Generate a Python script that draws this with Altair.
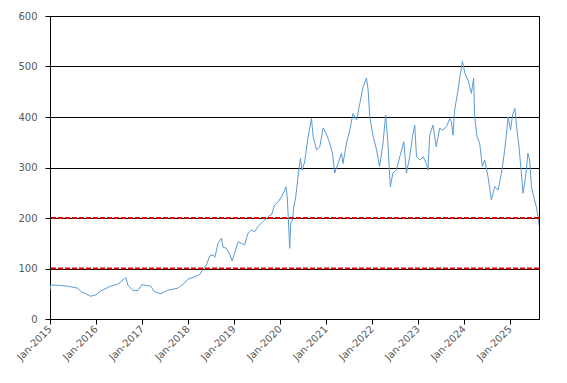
import altair as alt
import pandas as pd

dates = [
    "2015-01-01", "2015-01-06", "2015-03-03", "2015-05-21", "2015-08-10", "2015-09-05",
    "2015-10-12", "2015-11-21", "2016-01-01", "2016-02-10", "2016-04-28", "2016-06-23",
    "2016-08-15", "2016-08-25", "2016-09-11", "2016-10-20", "2016-11-29", "2017-01-01",
    "2017-03-11", "2017-04-10", "2017-05-30", "2017-07-24", "2017-10-12", "2017-12-04",
    "2018-01-01", "2018-03-03", "2018-04-04", "2018-05-01", "2018-05-27", "2018-06-23",
    "2018-07-19", "2018-08-02", "2018-08-28", "2018-09-24", "2018-10-07", "2018-11-03",
    "2018-11-30", "2018-12-18", "2019-01-09", "2019-02-04", "2019-03-01", "2019-03-27",
    "2019-04-23", "2019-05-19", "2019-06-15", "2019-07-11", "2019-08-07", "2019-09-03",
    "2019-09-29", "2019-10-26", "2019-11-21", "2019-12-18", "2020-01-14", "2020-02-02",
    "2020-02-18", "2020-02-28", "2020-03-06", "2020-03-19", "2020-03-27", "2020-04-10",
    "2020-04-20", "2020-05-06", "2020-05-24", "2020-06-12", "2020-06-25", "2020-07-16",
    "2020-08-12", "2020-09-08", "2020-09-21", "2020-10-18", "2020-11-13", "2020-12-09",
    "2021-01-01", "2021-01-27", "2021-02-22", "2021-03-11", "2021-04-07", "2021-05-04",
    "2021-05-16", "2021-06-13", "2021-07-09", "2021-08-04", "2021-09-01", "2021-09-27",
    "2021-10-23", "2021-11-19", "2021-12-02", "2021-12-15", "2022-01-11", "2022-02-07",
    "2022-03-03", "2022-03-30", "2022-04-20", "2022-05-08", "2022-05-27", "2022-06-17",
    "2022-07-14", "2022-08-10", "2022-09-11", "2022-10-02", "2022-10-28", "2022-11-19",
    "2022-12-07", "2022-12-21", "2023-01-17", "2023-02-12", "2023-03-09", "2023-03-22",
    "2023-04-05", "2023-05-01", "2023-05-27", "2023-06-23", "2023-07-19", "2023-08-16",
    "2023-09-11", "2023-09-24", "2023-10-07", "2023-10-20", "2023-11-16", "2023-12-05",
    "2023-12-21", "2024-01-09", "2024-02-04", "2024-02-17", "2024-03-01", "2024-03-19",
    "2024-03-27", "2024-04-15", "2024-05-06", "2024-05-27", "2024-06-15", "2024-07-11",
    "2024-08-07", "2024-09-03", "2024-09-29", "2024-10-26", "2024-11-21", "2024-12-18",
    "2025-01-06", "2025-01-22", "2025-02-10", "2025-02-23", "2025-03-14", "2025-04-02",
    "2025-04-15", "2025-05-06", "2025-05-24", "2025-06-07", "2025-06-21", "2025-07-09",
    "2025-07-30", "2025-08-12", "2025-08-20",
]

values = [
    57, 67, 67, 65, 61, 54,
    50, 45, 48, 56, 65, 69,
    80, 82, 67, 57, 56, 68,
    65, 54, 50, 57, 61, 71,
    79, 84, 88, 99, 107, 125,
    127, 122, 150, 160, 142, 140,
    127, 115, 133, 153, 150, 147,
    170, 176, 173, 183, 190, 196,
    203, 206, 226, 232, 242, 252,
    262, 242, 209, 140, 190, 196,
    222, 242, 282, 318, 295, 311,
    361, 397, 361, 335, 341, 378,
    368, 351, 328, 289, 308, 328,
    308, 348, 374, 407, 394, 427,
    460, 477, 453, 400, 361, 335,
    302, 348, 404, 348, 262, 289,
    295, 321, 351, 289, 321, 361,
    384, 321, 315, 321, 308, 295,
    364, 384, 341, 378, 374, 381,
    397, 391, 364, 414, 453, 487,
    510, 487, 473, 460, 447, 477,
    400, 361, 348, 302, 315, 282,
    236, 262, 255, 289, 335, 400,
    374, 404, 417, 381, 341, 289,
    249, 282, 328, 315, 262, 242,
    222, 203, 186,
]

ref_levels = [100, 200]
y_ticks = [0, 100, 200, 300, 400, 500, 600]
tick_years = list(range(2015, 2026))

df = pd.DataFrame({"date": dates, "value": values})
ref_df = pd.DataFrame({"level": ref_levels})

x_scale = alt.Scale(
    type="utc",
    domain=[alt.DateTime(year=2015, month=1, date=1, utc=True),
            alt.DateTime(year=2025, month=8, date=20, utc=True)],
)
y_scale = alt.Scale(domain=[0, 600], nice=False)

x_axis = alt.Axis(
    values=[alt.DateTime(year=y, month=1, date=1, utc=True) for y in tick_years],
    format="%b-%Y",
    labelAngle=-45,
    labelAlign="right",
    labelBaseline="middle",
    labelPadding=3,
    tickSize=5,
    tickColor="black",
    domainColor="black",
    labelColor="#595959",
    labelFont="DejaVu Sans",
    labelFontSize=10,
    grid=False,
    title=None,
)
y_axis = alt.Axis(
    values=y_ticks,
    tickSize=5,
    tickColor="black",
    domainColor="black",
    labelColor="#595959",
    labelFont="DejaVu Sans",
    labelFontSize=10,
    labelPadding=8,
    grid=True,
    gridColor="black",
    gridWidth=1,
    gridOpacity=1,
    title=None,
)

line = alt.Chart(df).mark_line(color="#5B9BD5", strokeWidth=1, clip=True).encode(
    x=alt.X("date:T", scale=x_scale, axis=x_axis),
    y=alt.Y("value:Q", scale=y_scale, axis=y_axis),
)

rules = alt.Chart(ref_df).mark_rule(color="#E00000", strokeWidth=2, strokeDash=[5, 2]).encode(
    y=alt.Y("level:Q", scale=y_scale),
)

chart = alt.layer(line, rules).properties(
    width=489,
    height=303,
    padding={"left": 42, "top": 8, "right": 20, "bottom": 50},
    autosize=alt.AutoSizeParams(type="none"),
    background="white",
).configure_view(stroke="black", strokeWidth=1)

chart.save("out.html", embed_options={"renderer": "svg", "actions": False})
